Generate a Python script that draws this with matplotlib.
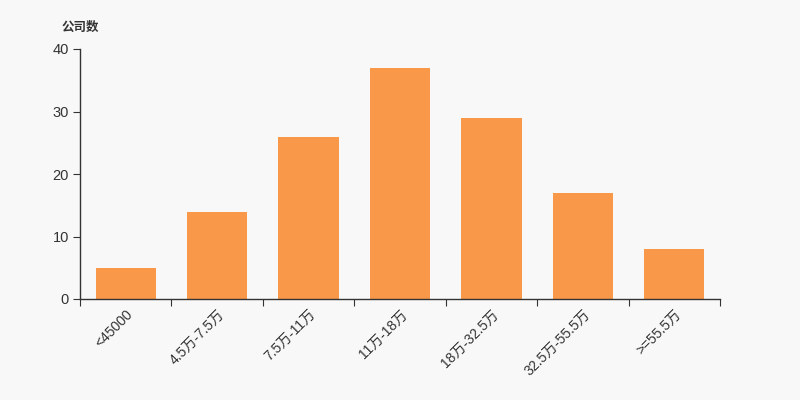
import matplotlib
matplotlib.use("Agg")
import matplotlib.pyplot as plt
import numpy as np

plt.rcParams['font.family'] = ['Liberation Sans', 'Noto Sans CJK SC', 'DejaVu Sans']

categories = ["<45000", "4.5万-7.5万", "7.5万-11万", "11万-18万", "18万-32.5万", "32.5万-55.5万", ">=55.5万"]
values = [5, 14, 26, 37, 29, 17, 8]
y_ticks = [0, 10, 20, 30, 40]

bg = "#f8f8f8"
fig = plt.figure(figsize=(8, 4), dpi=100, facecolor=bg)
ax = fig.add_axes([0.1, 0.2525, 0.8, 0.625], facecolor=bg)

x = np.arange(len(categories))
ax.bar(x, values, width=0.66, color="#f89848", zorder=2)
ax.set_xlim(-0.5, len(categories) - 0.5)
ax.set_ylim(0, 40)
ax.set_yticks(y_ticks)
ax.set_yticklabels([str(v) for v in y_ticks], fontsize=10.5, color="#333333")

ax.set_xticks(np.arange(-0.5, len(categories) + 0.5, 1.0))
ax.set_xticklabels([])
ax.set_xticks(x, minor=True)
ax.set_xticklabels(categories, minor=True, rotation=45, ha='right', va='top',
                   rotation_mode='anchor', fontsize=10, color="#333333")
ax.tick_params(axis='x', which='minor', length=0, pad=6)
ax.tick_params(axis='x', which='major', length=5, color="#333333")
ax.tick_params(axis='y', length=5, color="#333333", pad=3)

for s in ['top', 'right']:
    ax.spines[s].set_visible(False)
for s in ['left', 'bottom']:
    ax.spines[s].set_color("#333333")
    ax.spines[s].set_linewidth(1)

fig.text(62 / 800, 1 - 27 / 400, "公司数", fontsize=9, fontweight='bold',
         family=['Noto Sans CJK SC', 'DejaVu Sans'],
         color="#333333", ha='left', va='center')

fig.savefig("out.png", dpi=100, facecolor=bg)
